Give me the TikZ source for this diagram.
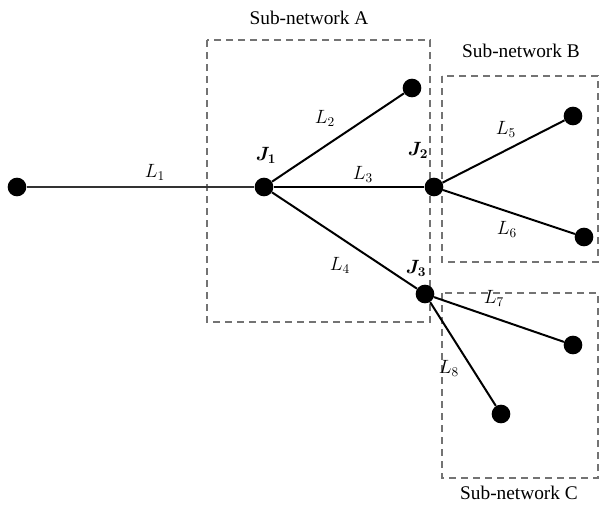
\documentclass[tikz,border=0pt]{standalone}
\usepackage{amsmath,amssymb,bm}
\usepackage{fontspec}
\setmainfont{Liberation Serif}
\usetikzlibrary{positioning}

\begin{document}
\begin{tikzpicture}[x=0.75pt,y=-0.75pt,
    bus/.style={circle,fill=black,inner sep=0pt,minimum size=14pt},
    line/.style={line width=1.5pt},
    area/.style={draw=black!55,line width=1.1pt,dash pattern=on 5.5pt off 3.5pt},
    lbl/.style={font=\fontsize{14.5}{17}\selectfont}]
  \useasboundingbox (0,0) rectangle (601,508);
  % sub-network boxes
  \draw[area] (207,40) rectangle (430,322);
  \draw[area] (442,76) rectangle (598,262);
  \draw[area] (442,293) rectangle (598,478);
  \node[lbl] (netA) at (309,18) {Sub-network A};
  \node[lbl] (netB) at (521,51) {Sub-network B};
  \node[lbl] (netC) at (519,493) {Sub-network C};
  % buses
  \node[bus] (s) at (17,187) {};
  \node[bus] (j1) at (264,187) {};
  \node[bus] (a2) at (412,88) {};
  \node[bus] (j2) at (434,187) {};
  \node[bus] (b5) at (573,116) {};
  \node[bus] (b6) at (584,237) {};
  \node[bus] (j3) at (425,294) {};
  \node[bus] (c7) at (573,345) {};
  \node[bus] (c8) at (501,414) {};
  % lines
  \draw[line,black!80] (s) -- (j1);
  \draw[line] (j1) -- (a2);
  \draw[line] (j1) -- (j2);
  \draw[line] (j1) -- (j3);
  \draw[line] (j2) -- (b5);
  \draw[line] (j2) -- (b6);
  \draw[line] (j3) -- (c7);
  \draw[line] (j3) -- (c8);
  % labels
  \node[lbl] at (155,172) {$L_1$};
  \node[lbl] at (325,118) {$L_2$};
  \node[lbl] at (363,174) {$L_3$};
  \node[lbl] at (340,265) {$L_4$};
  \node[lbl] at (506,129) {$L_5$};
  \node[lbl] at (507,229) {$L_6$};
  \node[lbl] at (494,298) {$L_7$};
  \node[lbl] at (449,368) {$L_8$};
  \node[lbl] at (266,155) {$\bm{J_1}$};
  \node[lbl] at (418,150) {$\bm{J_2}$};
  \node[lbl] at (416,268) {$\bm{J_3}$};
\end{tikzpicture}
\end{document}
